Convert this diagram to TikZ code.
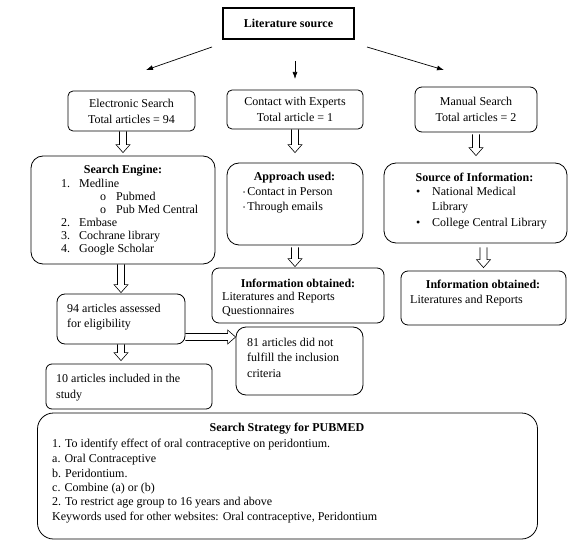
\documentclass[tikz,border=0pt]{standalone}
\usepackage{fontspec}
\setmainfont{Liberation Serif}
\usetikzlibrary{arrows.meta,positioning,calc}

\newcommand{\dotmark}{\raisebox{1.5pt}{\fontsize{6}{6}\selectfont\textbullet}}

\begin{document}
\begin{tikzpicture}[
  x=1pt, y=-1pt,
  every node/.style={font=\fontsize{12}{16}\selectfont},
  box/.style={draw, line width=0.8pt, rounded corners=#1, inner sep=0pt},
  box/.default=6pt,
  boxtitle/.style={font=\fontsize{12}{14}\selectfont\bfseries, inner sep=0pt},
  txtline/.style={anchor=base west, inner sep=0pt},
  feed/.style={-{Latex[length=7pt,width=5pt]}, line width=0.7pt},
  hollow/.style={line width=0.6pt, line join=miter, to path={
    let \p1=(\tikztostart), \p2=(\tikztotarget),
        \n1={atan2(\y2-\y1,\x2-\x1)} in
    ($(\p1)+({\n1+90}:3.5pt)$) -- ($(\p2)+(\n1:-8pt)+({\n1+90}:3.5pt)$)
    -- ($(\p2)+(\n1:-8pt)+({\n1+90}:7pt)$) -- (\p2)
    -- ($(\p2)+(\n1:-8pt)+({\n1-90}:7pt)$) -- ($(\p2)+(\n1:-8pt)+({\n1-90}:3.5pt)$)
    -- ($(\p1)+({\n1-90}:3.5pt)$)}}
]
\useasboundingbox (0,0) rectangle (575,545);

% source and the three routes
\node[box=0pt, line width=2.2pt, minimum width=131, minimum height=31] (litsrc) at (288.5,23.5)
  {\bfseries Literature source};
\coordinate (litL) at (212,47);
\coordinate (litM) at (295,61);
\coordinate (litR) at (367,47);
\coordinate (elecA) at (146,70);
\coordinate (contA) at (295,79);
\coordinate (manA) at (444,70);
\draw[feed] (litL) -- (elecA);
\draw[feed] (litM) -- (contA);
\draw[feed] (litR) -- (manA);

\node[box=5pt, minimum width=127, minimum height=40, align=center] (elec) at (131.5,111)
  {Electronic Search\\Total articles = 94};
\node[box=5pt, minimum width=136, minimum height=39, align=center] (contact) at (295,109.5)
  {Contact with Experts\\Total article = 1};
\node[box=7pt, minimum width=122, minimum height=45, align=center] (manual) at (476,109.5)
  {Manual Search\\Total articles = 2};

% electronic search
\node[box=12pt, minimum width=184, minimum height=108] (engine) at (123,210) {};
\node[boxtitle] (engineT) at (123,171) {Search Engine:};
\node[txtline] (eng1) at (61,188) {\makebox[18pt][l]{1.}Medline};
\node[txtline] (eng1a) at (100,201) {\makebox[16pt][l]{o}Pubmed};
\node[txtline] (eng1b) at (100,214) {\makebox[16pt][l]{o}Pub Med Central};
\node[txtline] (eng2) at (61,227) {\makebox[18pt][l]{2.}Embase};
\node[txtline] (eng3) at (61,240) {\makebox[18pt][l]{3.}Cochrane library};
\node[txtline] (eng4) at (61,253) {\makebox[18pt][l]{4.}Google Scholar};

% experts
\node[box=12pt, minimum width=136, minimum height=82] (approach) at (295,204) {};
\node[boxtitle] (approachT) at (294.5,178) {Approach used:};
\node[txtline] (appr1) at (243,196) {\dotmark\,Contact in Person};
\node[txtline] (appr2) at (243,211) {\dotmark\,Through emails};

% manual search
\node[box=12pt, minimum width=183, minimum height=80] (source) at (475.5,203) {};
\node[boxtitle] (sourceT) at (474.5,177) {Source of Information:};
\node[txtline] (src1) at (416,196) {\makebox[16pt][l]{\textbullet}National Medical};
\node[txtline] (src1b) at (432,211) {Library};
\node[txtline] (src2) at (416,226) {\makebox[16pt][l]{\textbullet}College Central Library};

\node[box=7pt, minimum width=172, minimum height=55] (info1) at (298,295.5) {};
\node[boxtitle] (info1T) at (298,283) {Information obtained:};
\node[txtline] (inf1a) at (222,300) {Literatures and Reports};
\node[txtline] (inf1b) at (222,314) {Questionnaires};

\node[box=7pt, minimum width=165, minimum height=54] (info2) at (483.5,298) {};
\node[boxtitle] (info2T) at (483,284) {Information obtained:};
\node[txtline] (inf2a) at (410,303) {Literatures and Reports};

% screening
\node[box=8pt, minimum width=128, minimum height=50] (assess) at (121,319) {};
\node[txtline] (assess1) at (67,312) {94 articles assessed};
\node[txtline] (assess2) at (67,327) {for eligibility};

\node[box=10pt, minimum width=127, minimum height=68] (excl) at (299.5,361) {};
\node[txtline] (excl1) at (247,346) {81 articles did not};
\node[txtline] (excl2) at (247,361) {fulfill the inclusion};
\node[txtline] (excl3) at (247,377) {criteria};

\node[box=6pt, minimum width=166, minimum height=45] (incl) at (129,386.5) {};
\node[txtline] (incl1) at (56,382) {10 articles included in the};
\node[txtline] (incl2) at (56,398) {study};

% search strategy
\node[box=16pt, minimum width=500, minimum height=126] (strat) at (287.5,476) {};
\node[boxtitle] (stratT) at (287,429) {Search Strategy for PUBMED};
\node[txtline] (strat1) at (52,447) {1. To identify effect of oral contraceptive on peridontium.};
\node[txtline] (strat2) at (52,462) {a. Oral Contraceptive};
\node[txtline] (strat3) at (52,477) {b. Peridontium.};
\node[txtline] (strat4) at (52,491) {c. Combine (a) or (b)};
\node[txtline] (strat5) at (52,505) {2. To restrict age group to 16 years and above};
\node[txtline] (strat6) at (52,520) {Keywords used for other websites: Oral contraceptive, Peridontium};

% hollow arrows
\draw[hollow] (elec.south -| engine.north) to ($(engine.north)+(0,-3)$);
\draw[hollow] (contact.south) to ($(approach.north)+(0,-10)$);
\draw[hollow] ($(manual.south)+(0,2)$) to ($(manual.south |- source.north)+(0,-7)$);
\draw[hollow] (assess.north |- engine.south) to ($(assess.north)+(0,-1)$);
\draw[hollow] ($(approach.south)+(0,2)$) to ($(approach.south |- info1.north)+(0,-1)$);
\draw[hollow] ($(info2.north |- source.south)+(0,4)$) to ($(info2.north)+(0,-3)$);
\draw[hollow] (assess.south) to ($(assess.south |- incl.north)+(0,-3)$);
\draw[hollow] ($(assess.east)+(0,18)$) to ($(assess.east -| excl.west)+(0,18)$);
\end{tikzpicture}
\end{document}
